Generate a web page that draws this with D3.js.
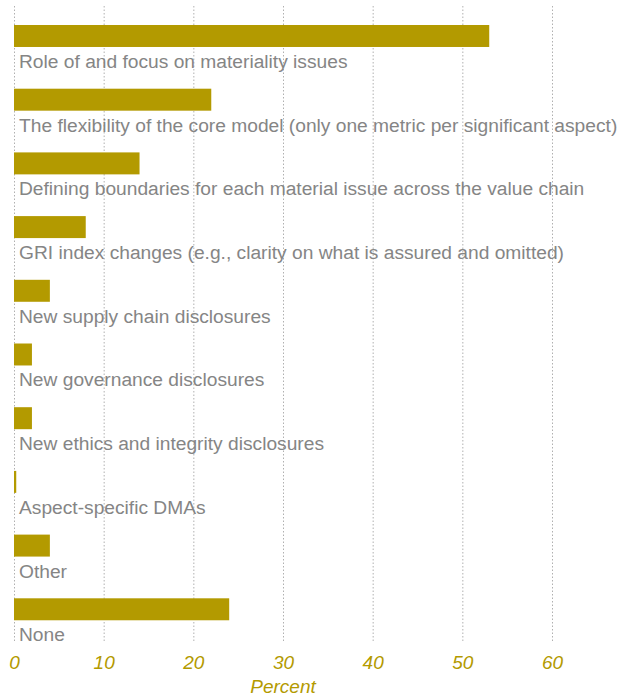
<!DOCTYPE html>
<html>
<head>
<meta charset="utf-8">
<script src="https://cdn.jsdelivr.net/npm/d3@7"></script>
<style>
  html, body { margin: 0; padding: 0; background: #fff; }
  svg { display: block; }
</style>
</head>
<body>
<svg id="chart" width="634" height="698"></svg>
<script>
const categories = [
  "Role of and focus on materiality issues",
  "The flexibility of the core model (only one metric per significant aspect)",
  "Defining boundaries for each material issue across the value chain",
  "GRI index changes (e.g., clarity on what is assured and omitted)",
  "New supply chain disclosures",
  "New governance disclosures",
  "New ethics and integrity disclosures",
  "Aspect-specific DMAs",
  "Other",
  "None"
];
const values = [53, 22, 14, 8, 4, 2, 2, 0.25, 4, 24];
const tickValues = [0, 10, 20, 30, 40, 50, 60];
const axisTitle = "Percent";

const barColor = "#b39a00";
const labelColor = "#858585";
const axisColor = "#b39a00";
const fontFamily = "'Liberation Sans', Arial, Helvetica, sans-serif";

const svg = d3.select("#chart");

const x = d3.scaleLinear().domain([0, 60]).range([14, 552]);
const pad = 0.655;
const step = 63.7;
const y = d3.scaleBand()
  .domain(categories)
  .range([25, 25 + step * (categories.length - pad)])
  .paddingInner(pad)
  .paddingOuter(0);

// gridlines
svg.append("g")
  .selectAll("line")
  .data(tickValues)
  .join("line")
  .attr("x1", d => x(d) + 0.5)
  .attr("x2", d => x(d) + 0.5)
  .attr("y1", 6)
  .attr("y2", 642)
  .attr("stroke", "#b0b0b0")
  .attr("stroke-width", 1)
  .attr("stroke-dasharray", "1.5,2");

// bars
svg.append("g")
  .selectAll("rect")
  .data(categories)
  .join("rect")
  .attr("x", x(0))
  .attr("y", d => y(d))
  .attr("width", (d, i) => x(values[i]) - x(0))
  .attr("height", y.bandwidth())
  .attr("fill", barColor);

// labels
svg.append("g")
  .selectAll("text")
  .data(categories)
  .join("text")
  .attr("x", x(0) + 5)
  .attr("y", d => y(d) + y.bandwidth() + 21)
  .attr("fill", labelColor)
  .attr("font-family", fontFamily)
  .attr("font-size", "19.2px")
  .text(d => d);

// x axis
const axis = d3.axisBottom(x).tickValues(tickValues).tickSize(0).tickPadding(0);
const gAxis = svg.append("g")
  .attr("transform", "translate(0,655)")
  .call(axis);
gAxis.select(".domain").remove();
gAxis.selectAll("text")
  .attr("dy", "0.71em")
  .attr("fill", axisColor)
  .attr("font-family", fontFamily)
  .attr("font-size", "19px")
  .attr("font-style", "italic");

svg.append("text")
  .attr("x", x(30))
  .attr("y", 693)
  .attr("text-anchor", "middle")
  .attr("fill", axisColor)
  .attr("font-family", fontFamily)
  .attr("font-size", "19px")
  .attr("font-style", "italic")
  .text(axisTitle);
</script>
</body>
</html>
